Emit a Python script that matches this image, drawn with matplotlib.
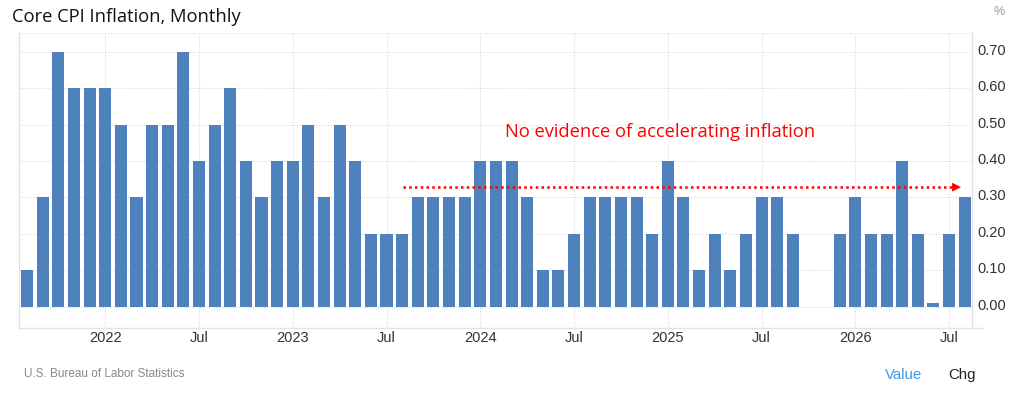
import numpy as np
import matplotlib
matplotlib.use("Agg")
import matplotlib.pyplot as plt
import matplotlib.transforms as mtransforms

# Months Aug 2021 .. Aug 2026 (Oct/Nov 2025 missing)
months = ["2021-08", "2021-09", "2021-10", "2021-11", "2021-12",
          "2022-01", "2022-02", "2022-03", "2022-04", "2022-05", "2022-06",
          "2022-07", "2022-08", "2022-09", "2022-10", "2022-11", "2022-12",
          "2023-01", "2023-02", "2023-03", "2023-04", "2023-05", "2023-06",
          "2023-07", "2023-08", "2023-09", "2023-10", "2023-11", "2023-12",
          "2024-01", "2024-02", "2024-03", "2024-04", "2024-05", "2024-06",
          "2024-07", "2024-08", "2024-09", "2024-10", "2024-11", "2024-12",
          "2025-01", "2025-02", "2025-03", "2025-04", "2025-05", "2025-06",
          "2025-07", "2025-08", "2025-09", "2025-10", "2025-11", "2025-12",
          "2026-01", "2026-02", "2026-03", "2026-04", "2026-05", "2026-06",
          "2026-07", "2026-08"]
values = [0.1, 0.3, 0.7, 0.6, 0.6,
          0.6, 0.5, 0.3, 0.5, 0.5, 0.7,
          0.4, 0.5, 0.6, 0.4, 0.3, 0.4,
          0.4, 0.5, 0.3, 0.5, 0.4, 0.2,
          0.2, 0.2, 0.3, 0.3, 0.3, 0.3,
          0.4, 0.4, 0.4, 0.3, 0.1, 0.1,
          0.2, 0.3, 0.3, 0.3, 0.3, 0.2,
          0.4, 0.3, 0.1, 0.2, 0.1, 0.2,
          0.3, 0.3, 0.2, np.nan, np.nan, 0.2,
          0.3, 0.2, 0.2, 0.4, 0.2, 0.01,
          0.2, 0.3]
tick_months = ["2022-01", "2022-07", "2023-01", "2023-07", "2024-01",
               "2024-07", "2025-01", "2025-07", "2026-01", "2026-07"]
tick_labels = ["2022", "Jul", "2023", "Jul", "2024", "Jul", "2025", "Jul", "2026", "Jul"]
y_ticks = [0.0, 0.1, 0.2, 0.3, 0.4, 0.5, 0.6, 0.7]

title = "Core CPI Inflation, Monthly"
annotation = "No evidence of accelerating inflation"
source = "U.S. Bureau of Labor Statistics"
arrow_level = 0.328
arrow_start = "2023-08"

BAR = "#4f81bd"
GRID = "#d9d9d9"
TXT = "#333333"

fig = plt.figure(figsize=(10.15, 4.05), dpi=100)
ax = fig.add_axes([19/1015, 1-328/405, (972-19)/1015, (328-32.5)/405])

x = np.arange(len(months))
ax.bar(x, values, width=0.77, color=BAR, zorder=3)

xmin, xmax = -0.52, 60.47
ax.set_xlim(xmin, xmax)
ax.set_ylim(-0.059, 0.753)

tick_pos = [months.index(m) for m in tick_months]
ax.set_xticks(tick_pos)
ax.set_xticklabels(tick_labels, fontfamily="Liberation Sans", fontsize=10.5, color=TXT)
ax.set_yticks(y_ticks)
ax.set_yticklabels([f"{v:.2f}" for v in y_ticks], fontfamily="Liberation Sans",
                   fontsize=10.5, color=TXT)
ax.yaxis.tick_right()
ax.tick_params(axis="both", length=0)
ax.tick_params(axis="x", pad=2.5)
ax.tick_params(axis="y", pad=4)

# Shift y tick labels slightly upward as in the reference
offset = mtransforms.ScaledTranslation(0, 2.5/100, fig.dpi_scale_trans)
for lbl in ax.get_yticklabels():
    lbl.set_transform(lbl.get_transform() + offset)

ax.grid(True, axis="both", color=GRID, linestyle=(0, (1, 1.5)), linewidth=0.8, zorder=0)
ax.axhline(0.753, color=GRID, linestyle=(0, (1, 1.5)), linewidth=0.8, zorder=0)

ax.spines["top"].set_visible(False)
for s in ["left", "right", "bottom"]:
    ax.spines[s].set_color("#e3e3e3")
    ax.spines[s].set_linewidth(1.0)

# Extend bottom axis line past the right edge
ax.plot([xmax, xmax + 0.65], [-0.059, -0.059], color="#e3e3e3", lw=1.0,
        clip_on=False, zorder=1)

# Annotation arrow
xs = months.index(arrow_start) + 0.05
xe = len(months) - 1 - 0.05
ax.plot([xs, xe - 0.6], [arrow_level, arrow_level], color="#ff0000",
        linestyle=(0, (1, 1.3)), linewidth=1.8, zorder=4)
ax.annotate("", xy=(xe, arrow_level), xytext=(xe - 0.7, arrow_level),
            arrowprops=dict(arrowstyle="-|>,head_length=0.65,head_width=0.32",
                            color="#ff0000", lw=0), zorder=5)
ax.text(40.5, 0.48, annotation, color="#ff0000", fontsize=13.2,
        fontfamily="Open Sans", ha="center", va="center", zorder=5)

fig.text(12/1015, 1-17/405, title, fontsize=13.2, fontfamily="Open Sans",
         color="#111111", ha="left", va="center")
fig.text(1005/1015, 1-12/405, "%", fontsize=9, fontfamily="Liberation Sans",
         color="#999999", ha="right", va="center")
fig.text(24/1015, 1-374/405, source, fontsize=8.5, fontfamily="Liberation Sans",
         color="#888888", ha="left", va="center")
fig.text(903.5/1015, 1-375/405, "Value", fontsize=10.8, fontfamily="Liberation Sans",
         color="#3d9ae8", ha="center", va="center")
fig.text(962/1015, 1-375/405, "Chg", fontsize=10.8, fontfamily="Liberation Sans",
         color="#222222", ha="center", va="center")

fig.savefig("out.png", dpi=100)
